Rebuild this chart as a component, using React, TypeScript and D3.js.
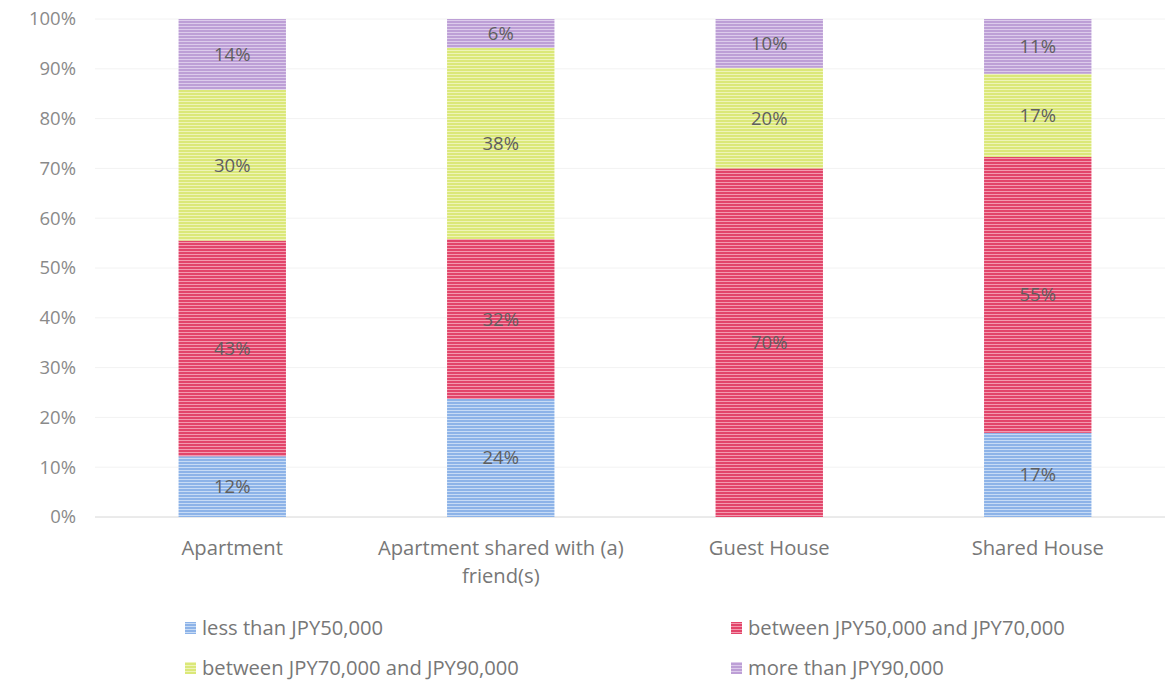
import React from "react";
import * as d3 from "d3";

const categories = ["Apartment", "Apartment shared with (a) friend(s)", "Guest House", "Shared House"];
const categoryLines = [["Apartment"], ["Apartment shared with (a)", "friend(s)"], ["Guest House"], ["Shared House"]];
const seriesNames = ["less than JPY50,000", "between JPY50,000 and JPY70,000", "between JPY70,000 and JPY90,000", "more than JPY90,000"];
const lessThan50k = [12.2, 23.7, 0, 16.9];
const between50and70k = [43.3, 32.1, 70, 55.4];
const between70and90k = [30.3, 38.4, 20.2, 16.7];
const moreThan90k = [14.2, 5.8, 9.8, 11.0];
const labelTexts = [
  ["12%", "24%", "", "17%"],
  ["43%", "32%", "70%", "55%"],
  ["30%", "38%", "20%", "17%"],
  ["14%", "6%", "10%", "11%"],
];
const yTicks = [0, 0.1, 0.2, 0.3, 0.4, 0.5, 0.6, 0.7, 0.8, 0.9, 1.0];

const colors = ["#8db3e8", "#e2456a", "#dbe879", "#bd9fd6"];
const stripeColors = ["#c7dbf5", "#f39aaf", "#eef4b8", "#dccbeb"];

export default function App() {
  const W = 1166, H = 683;
  const series = [lessThan50k, between50and70k, between70and90k, moreThan90k];
  const x = d3.scaleBand<string>().domain(categories).range([98, 1172]).paddingInner(0.6).paddingOuter(0.3);
  const y = d3.scaleLinear().domain([0, 1]).range([517, 19]);
  const font = "'Open Sans', Lato, sans-serif";
  const rows = categories.map((c, i) => {
    let acc = 0;
    return series.map((s, k) => {
      const v = s[i] / 100;
      const r = { k, y0: acc, y1: acc + v };
      acc += v;
      return r;
    });
  });
  return (
    <svg width={W} height={H} style={{ position: "absolute", left: 0, top: 0, background: "#fff" }}>
      <defs>
        {colors.map((c, k) => (
          <pattern key={k} id={`p${k}`} width={4} height={3} patternUnits="userSpaceOnUse">
            <rect width={4} height={3} fill={c} />
            <rect y={2} width={4} height={1} fill={stripeColors[k]} />
          </pattern>
        ))}
      </defs>
      {yTicks.map((t) => (
        <g key={t}>
          <line x1={95} x2={1165} y1={y(t)} y2={y(t)} stroke={t === 0 ? "#d6d6d6" : "#f2f2f2"} strokeWidth={1} />
          <text x={76} y={y(t)} dy="0.35em" textAnchor="end" fontFamily={font} fontSize={18.5} fill="#8a8a8a">
            {d3.format(".0%")(t)}
          </text>
        </g>
      ))}
      {categories.map((c, i) => (
        <g key={c}>
          {rows[i].map((r) =>
            r.y1 - r.y0 > 0 ? (
              <rect key={r.k} x={x(c)} width={x.bandwidth()} y={y(r.y1)} height={y(r.y0) - y(r.y1)} fill={`url(#p${r.k})`} />
            ) : null
          )}
          {rows[i].map((r) =>
            labelTexts[r.k][i] ? (
              <text key={"l" + r.k} x={(x(c) as number) + x.bandwidth() / 2} y={y((r.y0 + r.y1) / 2)} dy="0.35em" textAnchor="middle" fontFamily={font} fontSize={18.5} fill="#5f5f5f">
                {labelTexts[r.k][i]}
              </text>
            ) : null
          )}
          {categoryLines[i].map((ln, j) => (
            <text key={"c" + j} x={(x(c) as number) + x.bandwidth() / 2} y={555 + j * 28} textAnchor="middle" fontFamily={font} fontSize={20.2} fill="#777">
              {ln}
            </text>
          ))}
        </g>
      ))}
      {seriesNames.map((n, k) => {
        const lx = k % 2 === 0 ? 185 : 731;
        const ly = k < 2 ? 628 : 668;
        return (
          <g key={n}>
            <rect x={lx} y={ly - 6} width={11} height={12} fill={`url(#p${k})`} />
            <text x={lx + 17} y={ly} dy="0.35em" fontFamily={font} fontSize={20.2} fill="#777">
              {n}
            </text>
          </g>
        );
      })}
    </svg>
  );
}
